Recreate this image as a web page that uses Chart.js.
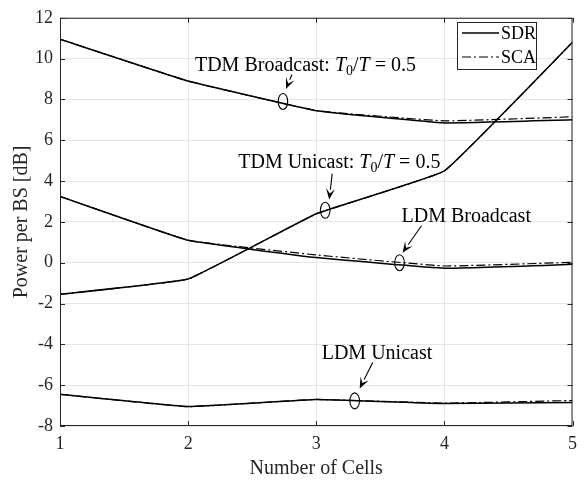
<!DOCTYPE html>
<html>
<head>
<meta charset="utf-8">
<script src="https://cdn.jsdelivr.net/npm/chart.js@4.4.0/dist/chart.umd.min.js"></script>
<style>html,body{margin:0;padding:0;background:#fff}</style>
</head>
<body>
<canvas id="c" width="584" height="481"></canvas>
<script>
// values
var cells=[1,2,3,4,5];
var tdmBroadcastSDR=[10.95,8.9,7.45,6.85,7.0];
var tdmBroadcastSCA=[10.95,8.9,7.45,6.95,7.15];
var tdmUnicastSDR=[-1.55,-0.8,2.4,4.5,10.8];
var tdmUnicastSCA=[-1.55,-0.8,2.4,4.5,10.8];
var ldmBroadcastSDR=[3.25,1.1,0.25,-0.27,-0.08];
var ldmBroadcastSCA=[3.25,1.1,0.38,-0.16,0.02];
var ldmUnicastSDR=[-6.45,-7.05,-6.7,-6.9,-6.85];
var ldmUnicastSCA=[-6.45,-7.05,-6.7,-6.88,-6.75];
var yTicks=[-8,-6,-4,-2,0,2,4,6,8,10,12];

// callouts: ellipse centre in data units, arrow/text offsets in px
var notes=[
  {x:2.74,y:7.9,  tip:[3,-12.5], tail:[9,-27], tx:-88, ty:-30, pre:'TDM Broadcast: ', math:true},
  {x:3.07,y:2.57, tip:[4,-10.7], tail:[7,-36.7], tx:-87, ty:-42, pre:'TDM Unicast: ', math:true},
  {x:3.65,y:0,    tip:[3,-10],   tail:[22,-37], tx:2, ty:-41, pre:'LDM Broadcast', math:false},
  {x:3.3,y:-6.77, tip:[5,-12.5], tail:[18,-38.5], tx:-33, ty:-42, pre:'LDM Unicast', math:false}
];

var FONT='"Liberation Serif", "Times New Roman", serif';
var AX='#262626';

function pts(ys){
  var out=[];
  for(var i=0;i<cells.length;i++) out.push({x:cells[i],y:ys[i]});
  return out;
}

function sdr(ys){
  return {label:'SDR',data:pts(ys),borderColor:'#000',borderWidth:1.5,pointRadius:0,tension:0.08,fill:false};
}
function sca(ys){
  return {label:'SCA',data:pts(ys),borderColor:'#000',borderWidth:1.2,borderDash:[9,3,2,3],pointRadius:0,tension:0.08,fill:false};
}

var extras={
  id:'extras',
  afterDraw:function(chart){
    var ctx=chart.ctx, a=chart.chartArea;
    var sx=chart.scales.x, sy=chart.scales.y;
    ctx.save();
    // frame + inward ticks
    ctx.strokeStyle=AX; ctx.lineWidth=1;
    ctx.strokeRect(a.left+0.5,a.top+0.5,a.right-a.left-1,a.bottom-a.top-1);
    ctx.beginPath();
    for(var i=0;i<yTicks.length;i++){
      var py=Math.round(sy.getPixelForValue(yTicks[i]))+0.5;
      ctx.moveTo(a.left,py); ctx.lineTo(a.left+5,py);
      ctx.moveTo(a.right,py); ctx.lineTo(a.right-5,py);
    }
    for(var j=0;j<cells.length;j++){
      var px=Math.round(sx.getPixelForValue(cells[j]))+0.5;
      ctx.moveTo(px,a.bottom); ctx.lineTo(px,a.bottom-5);
      ctx.moveTo(px,a.top); ctx.lineTo(px,a.top+5);
    }
    ctx.stroke();

    // callouts
    ctx.strokeStyle='#000'; ctx.fillStyle='#000';
    notes.forEach(function(n){
      var cx=sx.getPixelForValue(n.x), cy=sy.getPixelForValue(n.y);
      ctx.lineWidth=1.1;
      ctx.beginPath(); ctx.ellipse(cx,cy,4.8,8,0,0,Math.PI*2); ctx.stroke();
      var x0=cx+n.tail[0], y0=cy+n.tail[1], x1=cx+n.tip[0], y1=cy+n.tip[1];
      var ang=Math.atan2(y1-y0,x1-x0), L=10, W=4.5;
      var bx=x1-L*Math.cos(ang), by=y1-L*Math.sin(ang);
      ctx.beginPath(); ctx.moveTo(x0,y0); ctx.lineTo(bx,by); ctx.stroke();
      var nx=-Math.sin(ang), ny=Math.cos(ang);
      ctx.beginPath();
      ctx.moveTo(x1,y1);
      ctx.lineTo(bx+nx*W-Math.cos(ang),by+ny*W-Math.sin(ang));
      ctx.lineTo(x1-6*Math.cos(ang),y1-6*Math.sin(ang));
      ctx.lineTo(bx-nx*W-Math.cos(ang),by-ny*W-Math.sin(ang));
      ctx.closePath(); ctx.fill();
      // label
      var tx=cx+n.tx, ty=cy+n.ty;
      ctx.textBaseline='alphabetic'; ctx.textAlign='left';
      var segs=[{t:n.pre,f:'20px '+FONT,dy:0}];
      if(n.math){
        segs.push({t:'T',f:'italic 20px '+FONT,dy:0});
        segs.push({t:'0',f:'14px '+FONT,dy:4});
        segs.push({t:'/',f:'20px '+FONT,dy:0});
        segs.push({t:'T',f:'italic 20px '+FONT,dy:0});
        segs.push({t:' = 0.5',f:'20px '+FONT,dy:0});
      }
      segs.forEach(function(s){
        ctx.font=s.f; ctx.fillText(s.t,tx,ty+s.dy);
        tx+=ctx.measureText(s.t).width;
      });
    });

    // legend box
    var lx=457, ly=22, lw=79, lh=47;
    ctx.fillStyle='#fff'; ctx.fillRect(lx,ly,lw,lh);
    ctx.strokeStyle=AX; ctx.lineWidth=1; ctx.strokeRect(lx+0.5,ly+0.5,lw,lh);
    var items=[chart.data.datasets[0],chart.data.datasets[4]];
    items.forEach(function(d,k){
      var yy=ly+11+k*24;
      ctx.strokeStyle=d.borderColor; ctx.lineWidth=d.borderWidth;
      ctx.setLineDash(d.borderDash||[]);
      ctx.beginPath(); ctx.moveTo(lx+5,yy); ctx.lineTo(lx+42,yy); ctx.stroke();
      ctx.setLineDash([]);
      ctx.fillStyle='#000'; ctx.font='18px '+FONT; ctx.textBaseline='middle';
      ctx.fillText(d.label,lx+44,yy+1);
    });
    ctx.restore();
  }
};

var chart=new Chart(document.getElementById('c'),{
  type:'line',
  data:{datasets:[
    sdr(tdmBroadcastSDR),sdr(tdmUnicastSDR),sdr(ldmBroadcastSDR),sdr(ldmUnicastSDR),
    sca(tdmBroadcastSCA),sca(tdmUnicastSCA),sca(ldmBroadcastSCA),sca(ldmUnicastSCA)
  ]},
  options:{
    responsive:false,
    animation:false,
    devicePixelRatio:1,
    layout:{padding:{top:15,right:4,left:0,bottom:0}},
    plugins:{legend:{display:false},tooltip:{enabled:false}},
    scales:{
      x:{
        type:'linear',min:1,max:5,
        afterBuildTicks:function(s){s.ticks=cells.map(function(v){return {value:v};});},
        afterFit:function(s){s.height=55;},
        grid:{color:'#e6e6e6',drawTicks:false},
        border:{display:false},
        ticks:{color:AX,font:{family:FONT,size:18},padding:7},
        title:{display:true,text:'Number of Cells',color:AX,font:{family:FONT,size:20},padding:{top:3,bottom:0}}
      },
      y:{
        min:-8,max:12,
        afterBuildTicks:function(s){s.ticks=yTicks.map(function(v){return {value:v};});},
        afterFit:function(s){s.width=60;},
        grid:{color:'#e6e6e6',drawTicks:false},
        border:{display:false},
        ticks:{color:AX,font:{family:FONT,size:18},padding:7},
        title:{display:true,text:'Power per BS [dB]',color:AX,font:{family:FONT,size:20},padding:{top:10,bottom:0}}
      }
    }
  },
  plugins:[extras]
});
</script>
</body>
</html>
